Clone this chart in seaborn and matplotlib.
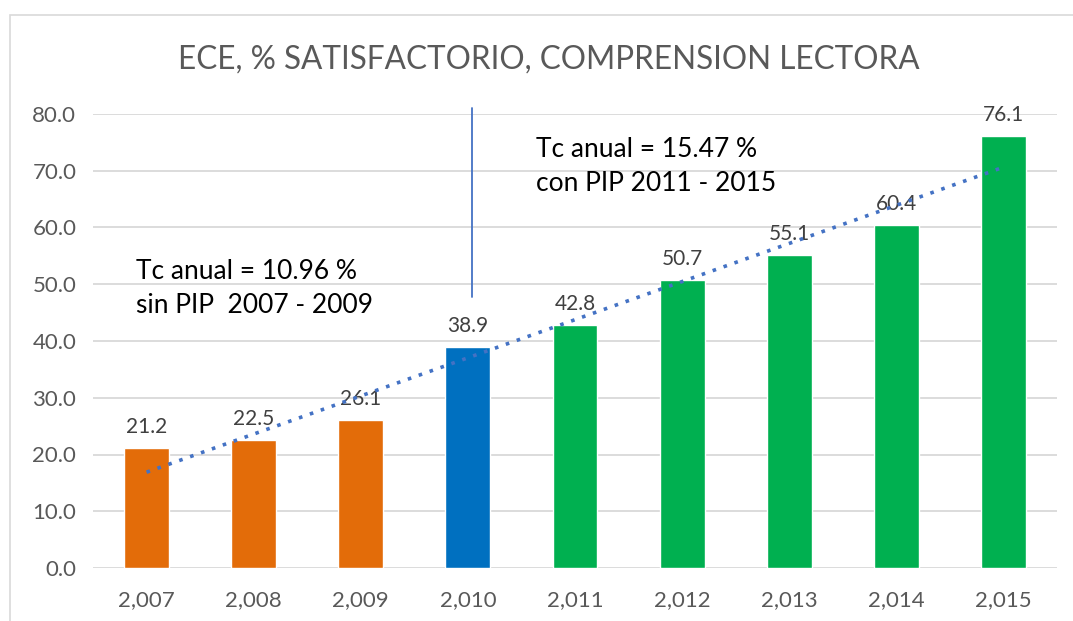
import numpy as np
import pandas as pd
import matplotlib
matplotlib.use("Agg")
import matplotlib.pyplot as plt
import seaborn as sns
from matplotlib.patches import Rectangle

# Data
years = ["2,007", "2,008", "2,009", "2,010", "2,011", "2,012", "2,013", "2,014", "2,015"]
values = [21.2, 22.5, 26.1, 38.9, 42.8, 50.7, 55.1, 60.4, 76.1]
periods = ["sin", "sin", "sin", "base", "con", "con", "con", "con", "con"]
period_colors = {"sin": "#E36C09", "base": "#0070C0", "con": "#00B050"}

df = pd.DataFrame({"year": years, "value": values, "period": periods})

sns.set_style("white")
plt.rcParams["font.family"] = ["Lato", "DejaVu Sans"]

fig = plt.figure(figsize=(10.73, 6.21), dpi=100)
ax = fig.add_axes([93 / 1073, 53 / 621, (1057 - 93) / 1073, (507 - 53) / 621])

bar_colors = {y: period_colors[p] for y, p in zip(years, periods)}
sns.barplot(data=df, x="year", y="value", hue="year", palette=bar_colors,
            width=0.42, legend=False, ax=ax, saturation=1)

for cont in ax.containers:
    ax.bar_label(cont, fmt="%.1f", padding=8, fontsize=15, color="#404040")

# Linear trendline (dotted)
xs = np.arange(len(values))
slope, intercept = np.polyfit(xs, values, 1)
ax.plot(xs, slope * xs + intercept, linestyle=(0, (1, 2.2)), color="#4472C4",
        linewidth=2.6, zorder=4)

# Separator line between periods
ax.plot([3.04, 3.04], [47.8, 81.1], color="#4472C4", linewidth=1.3,
        clip_on=False, zorder=5)

ax.text(-0.1, 54.4, "Tc anual = 10.96 %\nsin PIP  2007 - 2009", fontsize=19,
        color="black", va="top", ha="left", linespacing=1.45)
ax.text(3.64, 75.9, "Tc anual = 15.47 %\ncon PIP 2011 - 2015", fontsize=19,
        color="black", va="top", ha="left", linespacing=1.45)

ax.set_xlim(-0.5, 8.5)
ax.set_ylim(0, 80)
ax.set_yticks(np.arange(0, 81, 10))
ax.set_yticklabels([f"{v:.1f}" for v in np.arange(0, 81, 10)])
ax.yaxis.grid(True, color="#D9D9D9", linewidth=1.3)
ax.set_axisbelow(True)
for s in ax.spines.values():
    s.set_visible(False)
ax.tick_params(axis="both", length=0, labelsize=16, colors="#595959")
ax.tick_params(axis="x", pad=16)
ax.tick_params(axis="y", pad=12)
ax.set_xlabel("")
ax.set_ylabel("")

fig.text(549 / 1073, 1 - 60 / 621, "ECE, % SATISFACTORIO, COMPRENSION LECTORA",
         ha="center", va="center", fontsize=22.7, color="#595959")

# Chart frame
fig.patches.append(Rectangle((10 / 1073, -0.01), 1.0, 1 - 15 / 621 + 0.01,
                             transform=fig.transFigure, fill=False,
                             edgecolor="#D9D9D9", linewidth=1.2))

fig.savefig("out.png", dpi=100)
